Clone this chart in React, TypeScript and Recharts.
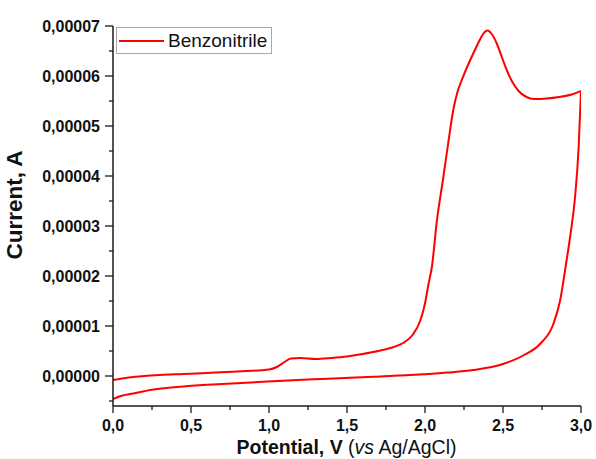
import React from 'react';
import { LineChart, Line, XAxis, YAxis } from 'recharts';

const seriesName = 'Benzonitrile';

// Anodic (forward) scan: potential (V) and current (A)
const forwardPotential = [0.0, 0.1, 0.2, 0.3, 0.45, 0.6, 0.8, 1.0, 1.05, 1.1, 1.14, 1.2, 1.3, 1.4, 1.5, 1.6, 1.7, 1.8, 1.86, 1.92, 1.97, 2.0, 2.02, 2.045, 2.076, 2.114, 2.16, 2.18, 2.21, 2.236, 2.29, 2.34, 2.37, 2.4, 2.43, 2.46, 2.49, 2.52, 2.56, 2.6, 2.65, 2.7, 2.78, 2.86, 2.94, 3.0];
const forwardCurrent = [-0.8e-6, -0.3e-6, 0.0e-6, 0.2e-6, 0.4e-6, 0.6e-6, 0.9e-6, 1.3e-6, 1.8e-6, 2.8e-6, 3.5e-6, 3.6e-6, 3.4e-6, 3.6e-6, 3.9e-6, 4.4e-6, 5.0e-6, 5.8e-6, 6.6e-6, 8.2e-6, 11.1e-6, 14.5e-6, 18.0e-6, 22.0e-6, 31.0e-6, 39.0e-6, 49.0e-6, 53.0e-6, 57.0e-6, 59.2e-6, 63.2e-6, 66.5e-6, 68.3e-6, 69.1e-6, 68.3e-6, 66.5e-6, 64.0e-6, 61.5e-6, 58.8e-6, 57.0e-6, 55.8e-6, 55.4e-6, 55.5e-6, 55.8e-6, 56.3e-6, 57.0e-6];

// Cathodic (reverse) scan, listed by increasing potential
const reversePotential = [0.0, 0.05, 0.13, 0.24, 0.45, 0.7, 0.99, 1.25, 1.52, 1.67, 1.99, 2.15, 2.31, 2.5, 2.63, 2.737, 2.823, 2.866, 2.904, 2.936, 2.962, 2.985, 3.0];
const reverseCurrent = [-4.6e-6, -4.0e-6, -3.5e-6, -2.8e-6, -2.1e-6, -1.6e-6, -1.1e-6, -0.7e-6, -0.35e-6, -0.15e-6, 0.35e-6, 0.7e-6, 1.2e-6, 2.4e-6, 4.1e-6, 6.4e-6, 10.4e-6, 15.1e-6, 22.4e-6, 29.1e-6, 35.8e-6, 45.8e-6, 57.0e-6];

const xTicks = [0, 0.25, 0.5, 0.75, 1, 1.25, 1.5, 1.75, 2, 2.25, 2.5, 2.75, 3];
const xMajorTicks = [0, 0.5, 1, 1.5, 2, 2.5, 3];
const yTicks = [-5e-6, 0, 5e-6, 1e-5, 1.5e-5, 2e-5, 2.5e-5, 3e-5, 3.5e-5, 4e-5, 4.5e-5, 5e-5, 5.5e-5, 6e-5, 6.5e-5, 7e-5];
const yMajorTicks = [0, 1e-5, 2e-5, 3e-5, 4e-5, 5e-5, 6e-5, 7e-5];

const forwardData = forwardPotential.map((v, k) => ({ v, i: forwardCurrent[k] }));
const reverseData = reversePotential.map((v, k) => ({ v, i: reverseCurrent[k] }));

const FONT = '"Liberation Sans", Arial, sans-serif';
const AXIS_COLOR = '#1a1a1a';

const isMajor = (val: number, majors: number[], tol: number) => majors.some((m) => Math.abs(m - val) < tol);

const XTick = (props: any) => {
  const { x, y, payload } = props;
  const major = isMajor(payload.value, xMajorTicks, 1e-6);
  return (
    <g>
      <line x1={x} y1={y} x2={x} y2={y + (major ? 7 : 4)} stroke={AXIS_COLOR} strokeWidth={1.3} />
      {major && (
        <text x={x} y={y + 24.5} textAnchor="middle" fontFamily={FONT} fontWeight="bold" fontSize={16} fill="#111">
          {payload.value.toFixed(1).replace('.', ',')}
        </text>
      )}
    </g>
  );
};

const YTick = (props: any) => {
  const { x, y, payload } = props;
  const major = isMajor(payload.value, yMajorTicks, 1e-9);
  return (
    <g>
      <line x1={x - (major ? 8 : 4)} y1={y} x2={x} y2={y} stroke={AXIS_COLOR} strokeWidth={1.3} />
      {major && (
        <text x={x - 13} y={y} dy="0.36em" textAnchor="end" fontFamily={FONT} fontWeight="bold" fontSize={16} fill="#111">
          {payload.value.toFixed(5).replace('.', ',')}
        </text>
      )}
    </g>
  );
};

const XTitle = (props: any) => {
  const vb = props.viewBox || {};
  const cx = vb.x + vb.width / 2 - 0.5;
  return (
    <text x={cx} y={454} textAnchor="middle" fontFamily={FONT} fontSize={19.5} fill="#111">
      <tspan fontWeight="bold">Potential, V </tspan>
      <tspan>(</tspan>
      <tspan fontStyle="italic">vs</tspan>
      <tspan> Ag/AgCl)</tspan>
    </text>
  );
};

const YTitle = (props: any) => {
  const vb = props.viewBox || {};
  const cy = vb.y + vb.height / 2 - 11;
  return (
    <text x={14} y={cy} dy="0.36em" textAnchor="middle" transform={`rotate(-90, 14, ${cy})`} fontFamily={FONT} fontWeight="bold" fontSize={22.5} fill="#111">
      Current, A
    </text>
  );
};

export default function App() {
  return (
    <div style={{ position: 'absolute', left: 0, top: 0, width: 596, height: 459, background: '#fff' }}>
      <LineChart width={596} height={459} margin={{ top: 26, right: 15, bottom: 0, left: 0 }}>
        <XAxis
          type="number"
          dataKey="v"
          domain={[0, 3]}
          ticks={xTicks}
          interval={0}
          height={53}
          tickSize={0}
          tickMargin={0}
          tick={<XTick />}
          axisLine={{ stroke: AXIS_COLOR, strokeWidth: 1.5 }}
          allowDataOverflow
          label={<XTitle />}
        />
        <YAxis
          type="number"
          dataKey="i"
          domain={[-6e-6, 7e-5]}
          ticks={yTicks}
          interval={0}
          width={113}
          tickSize={0}
          tickMargin={0}
          tick={<YTick />}
          axisLine={{ stroke: AXIS_COLOR, strokeWidth: 1.5 }}
          allowDataOverflow
          label={<YTitle />}
        />
        <Line data={forwardData} dataKey="i" name={seriesName} type="monotone" stroke="#ff0000" strokeWidth={2} dot={false} activeDot={false} isAnimationActive={false} />
        <Line data={reverseData} dataKey="i" name={seriesName} type="monotone" stroke="#ff0000" strokeWidth={2} dot={false} activeDot={false} isAnimationActive={false} legendType="none" />
      </LineChart>
      <div
        style={{
          position: 'absolute',
          left: 116,
          top: 27,
          width: 154,
          height: 25,
          border: '1px solid #a8a8a8',
          background: '#fff',
          display: 'flex',
          alignItems: 'center',
          fontFamily: FONT,
          fontSize: 19,
          color: '#111',
          boxSizing: 'content-box',
        }}
      >
        <svg width={50} height={25} style={{ display: 'block' }}>
          <line x1={2} y1={13} x2={47} y2={13} stroke="#ff0000" strokeWidth={2} />
        </svg>
        <span style={{ marginLeft: 1, lineHeight: '25px' }}>{seriesName}</span>
      </div>
    </div>
  );
}
